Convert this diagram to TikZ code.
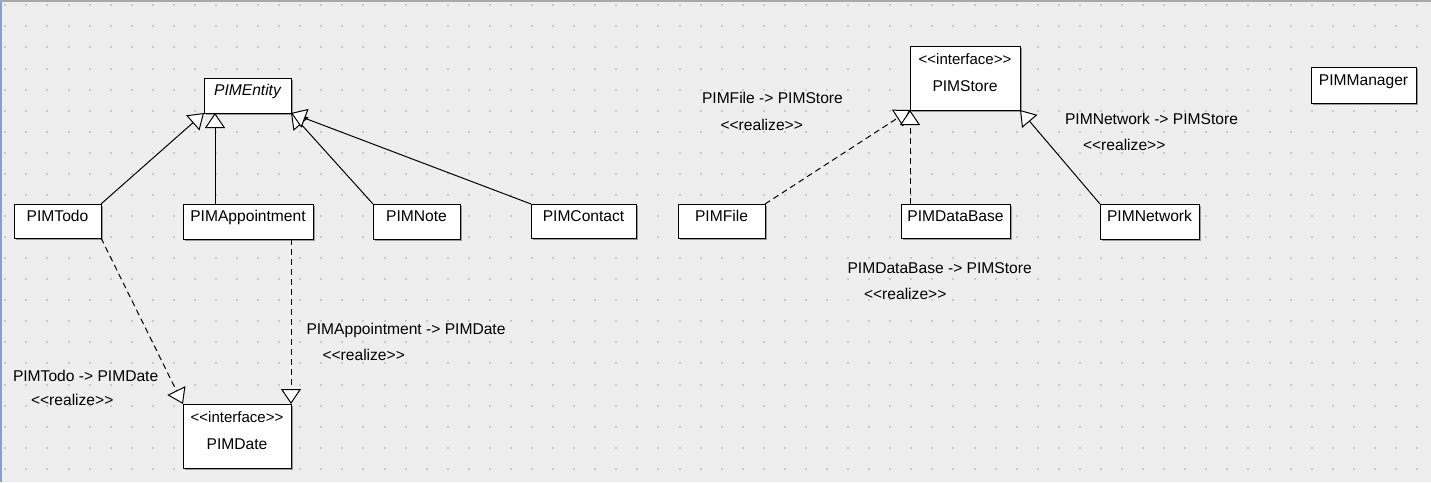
\documentclass[tikz,border=0pt]{standalone}
\usepackage{fontspec}
\usepackage{graphicx}
\newfontfamily\uml{Liberation Sans}
\usetikzlibrary{arrows.meta,calc,shadows}
\definecolor{bg}{HTML}{EEEEEE}
\definecolor{dotc}{HTML}{CACACA}
\definecolor{edgeblue}{HTML}{7FA0D8}
\definecolor{topgray}{HTML}{A8A8A8}
\definecolor{shadowc}{HTML}{9A9A9A}
\begin{document}
\begin{tikzpicture}[x=1pt,y=-1pt,
  txt/.style={font=\uml\fontsize{15.6pt}{18pt}\selectfont, inner sep=0pt, outer sep=0pt},
  umlbox/.style={txt, draw=black, line width=1pt, fill=white, text height=0pt, text depth=0pt,
    drop shadow={shadow xshift=1.5pt, shadow yshift=-1.5pt, fill=shadowc, opacity=1}},
  stereo/.style={txt, font=\uml\fontsize{15pt}{17pt}\selectfont, anchor=base},
  lbl/.style={txt, anchor=base west},
  gen/.style={line width=1pt, -{Triangle[length=15pt,width=20pt,fill=white]}},
  real/.style={gen, dash pattern=on 6pt off 4pt},
]
\useasboundingbox (0,0) rectangle (1431,482);
\fill[bg] (0,0) rectangle (1431,482);
\foreach \i in {0,...,67} {
  \foreach \j in {0,...,22} {
    \fill[dotc] ({4.3+21.07*\i},{4.3+21.07*\j}) rectangle ++(2,2);
  }
}
\fill[edgeblue] (0,0) rectangle (2,482);
\fill[topgray] (0,0) rectangle (1431,1.5);

% boxes
\node[umlbox, minimum width=87pt, minimum height=35pt] (entity) at (247.5,95.5) {\itshape PIMEntity};
\node[umlbox, minimum width=87pt, minimum height=34pt] (todo) at (57.5,221) {PIMTodo};
\node[umlbox, minimum width=130pt, minimum height=35pt] (appt) at (248,221.5) {PIMAppointment};
\node[umlbox, minimum width=87pt, minimum height=35pt] (note) at (416.5,221.5) {PIMNote};
\node[umlbox, minimum width=105pt, minimum height=34pt] (contact) at (583.5,221) {PIMContact};
\node[umlbox, minimum width=108pt, minimum height=64pt] (date) at (237,436) {\raisebox{-13.5pt}[0pt][0pt]{PIMDate}};
\node[stereo] (datest) at ($(date.north)+(0,18)$) {<<interface>>};

\node[umlbox, minimum width=87pt, minimum height=34pt] (file) at (721.5,221) {PIMFile};
\node[umlbox, minimum width=109pt, minimum height=34pt] (db) at (955.5,221) {PIMDataBase};
\node[umlbox, minimum width=99pt, minimum height=35pt] (network) at (1149.5,221.5) {PIMNetwork};
\node[umlbox, minimum width=110pt, minimum height=64pt] (store) at (965,78) {\raisebox{-13.5pt}[0pt][0pt]{PIMStore}};
\node[stereo] (storest) at ($(store.north)+(0,18)$) {<<interface>>};
\node[umlbox, minimum width=105pt, minimum height=36pt] (manager) at (1363.5,85) {PIMManager};

% connectors
\coordinate (apin) at ($(entity.south west)+(11,0)$);
\draw[gen] (todo.north east) -- (entity.south west);
\draw[gen] (appt.north -| apin) -- (apin);
\draw[gen] (note.north west) -- (entity.south east);
\draw[gen] (contact.north west) -- (entity.south east);
\draw[real] (todo.south east) -- (date.north west);
\draw[real] (appt.south -| date.north east) -- (date.north east);
\draw[real] (file.north east) -- (store.south west);
\draw[real] (db.north -| store.south west) -- (store.south west);
\draw[gen] (network.north west) -- (store.south east);

% labels
\node[lbl] (l1a) at (13,381) {PIMTodo -> PIMDate};
\node[lbl] (l1b) at (31,405.5) {<<realize>>};
\node[lbl] (l2a) at (306.5,334) {PIMAppointment -> PIMDate};
\node[lbl] (l2b) at (322.5,360.5) {<<realize>>};
\node[lbl] (l3a) at (702,103) {PIMFile -> PIMStore};
\node[lbl] (l3b) at (720.5,130) {<<realize>>};
\node[lbl] (l4a) at (847.5,273) {PIMDataBase -> PIMStore};
\node[lbl] (l4b) at (864,299) {<<realize>>};
\node[lbl] (l5a) at (1065,124.5) {PIMNetwork -> PIMStore};
\node[lbl] (l5b) at (1083,150) {<<realize>>};
\end{tikzpicture}
\end{document}
